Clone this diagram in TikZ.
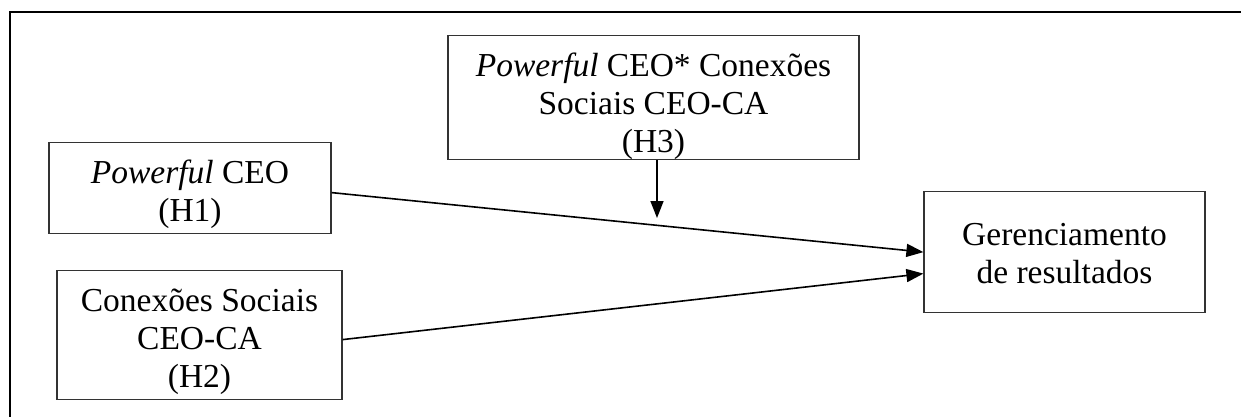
\documentclass[tikz,border=0pt]{standalone}
\usepackage{fontspec}
\setmainfont{Liberation Serif}
\usetikzlibrary{arrows.meta}

\tikzset{
  box/.style={draw=black!80, line width=1.2pt, align=center, inner sep=0pt,
    anchor=north, font=\fontsize{33.5}{38}\selectfont},
  link/.style={-{Triangle[length=17pt,width=13pt]}, line width=1.6pt},
}

\begin{document}
\begin{tikzpicture}[x=1pt, y=-1pt]
\useasboundingbox (0,0) rectangle (1241,416);
% moldura
\draw[line width=2.5pt] (10,430) -- (10,12) -- (1260,12);

\node[box, minimum width=411pt, text height=117pt, text depth=7pt] (interacao) at (653.5,35)
{\textit{Powerful} CEO* Conexões\\
Sociais CEO-CA\\
(H3)};
\node[box, minimum width=282pt, text height=79pt, text depth=12pt] (powerful) at (190,142)
{\textit{Powerful} CEO\\
(H1)};
\node[box, minimum width=285pt, text height=117pt, text depth=12pt] (conexoes) at (199.5,270)
{Conexões Sociais\\
CEO-CA\\
(H2)};
\node[box, minimum width=281pt, text height=92pt, text depth=29pt] (gerenciamento) at (1064.5,191)
{Gerenciamento\\
de resultados};

\coordinate (moderacao) at (657,218);
\draw[link] ([yshift=-4.5pt]powerful.east) -- (gerenciamento.west);
\draw[link] ([yshift=-4.5pt]conexoes.east) -- ([yshift=-21.5pt]gerenciamento.west);
\draw[link] (interacao.south -| moderacao) -- (moderacao);
\end{tikzpicture}
\end{document}
